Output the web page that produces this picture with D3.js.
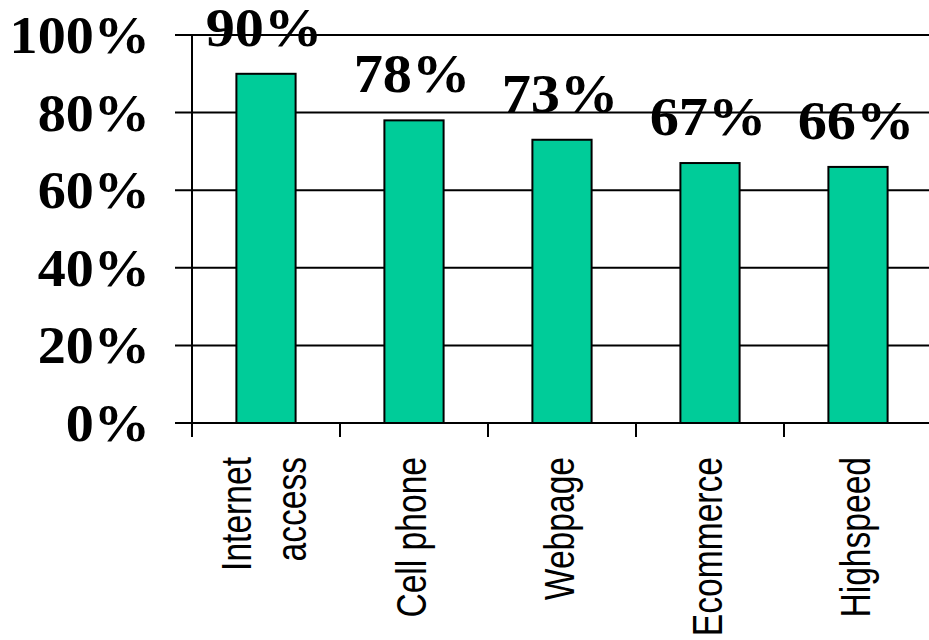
<!DOCTYPE html>
<html>
<head>
<meta charset="utf-8">
<script src="https://cdn.jsdelivr.net/npm/d3@7"></script>
<style>
  body { margin: 0; background: #fff; }
  svg { display: block; }
</style>
</head>
<body>
<svg id="chart" width="929" height="640"></svg>
<script>
// chart data
const categories = ['Internet access', 'Cell phone', 'Webpage', 'Ecommerce', 'Highspeed']
const values = [0.90, 0.78, 0.73, 0.67, 0.66]
const yTicks = [0, 0.2, 0.4, 0.6, 0.8, 1.0]

const svg = d3.select('#chart')

const plotLeft = 192
const plotRight = 932
const plotTop = 35
const plotBottom = 423

// one slot per category, bars take 40% of it
const slot = d3.scaleBand().domain(categories).range([plotLeft, plotRight]).padding(0)
const x = d3.scaleBand().domain(categories).range([plotLeft, plotRight])
  .paddingInner(0.6).paddingOuter(0.3)
const y = d3.scaleLinear().domain([0, 1]).range([plotBottom, plotTop])

const pct = d3.format('.0%')
const serif = '"Liberation Serif", "Times New Roman", serif'

// gridlines with little ticks reaching out to the left
svg.append('g')
  .selectAll('line')
  .data(yTicks)
  .join('line')
  .attr('x1', plotLeft - 17)
  .attr('x2', 929)
  .attr('y1', d => y(d))
  .attr('y2', d => y(d))
  .attr('stroke', 'black')
  .attr('stroke-width', 2)

// y axis line
svg.append('line')
  .attr('x1', plotLeft).attr('x2', plotLeft)
  .attr('y1', y(1)).attr('y2', plotBottom + 14)
  .attr('stroke', 'black')
  .attr('stroke-width', 2)

// x ticks between categories
svg.append('g')
  .selectAll('line')
  .data(categories.slice(1))
  .join('line')
  .attr('x1', d => slot(d))
  .attr('x2', d => slot(d))
  .attr('y1', plotBottom)
  .attr('y2', plotBottom + 14)
  .attr('stroke', 'black')
  .attr('stroke-width', 2)

// y tick labels (a bit wider than the plain font)
svg.append('g')
  .selectAll('text')
  .data(yTicks)
  .join('text')
  .attr('transform', d => `translate(150,${y(d) + 18}) scale(1.08,1)`)
  .attr('text-anchor', 'end')
  .attr('font-family', serif)
  .attr('font-weight', 'bold')
  .attr('font-size', 52)
  .text(d => pct(d))

// bars
svg.append('g')
  .selectAll('rect')
  .data(values)
  .join('rect')
  .attr('x', (d, i) => x(categories[i]))
  .attr('y', d => y(d))
  .attr('width', x.bandwidth())
  .attr('height', d => plotBottom - y(d))
  .attr('fill', '#00cc99')
  .attr('stroke', 'black')
  .attr('stroke-width', 2)

// value labels
svg.append('g')
  .selectAll('text')
  .data(values)
  .join('text')
  .attr('transform', (d, i) => `translate(${x(categories[i]) + x.bandwidth() / 2 - 2},${y(d) - 28}) scale(1.08,1)`)
  .attr('text-anchor', 'middle')
  .attr('font-family', serif)
  .attr('font-weight', 'bold')
  .attr('font-size', 54)
  .text(d => pct(d))

// rotated category labels, narrow sans
const lineGap = 55
categories.forEach(function (c) {
  const lines = c === 'Internet access' ? ['Internet', 'access'] : [c]
  const cx = slot(c) + slot.bandwidth() / 2
  lines.forEach(function (t, i) {
    const bx = cx + 12 + (i - (lines.length - 1) / 2) * lineGap
    svg.append('text')
      .attr('transform', `translate(${bx},457) rotate(-90) scale(0.8,1)`)
      .attr('text-anchor', 'end')
      .attr('font-family', '"Liberation Sans", Arial, sans-serif')
      .attr('font-size', 42)
      .text(t)
  })
})
</script>
</body>
</html>
